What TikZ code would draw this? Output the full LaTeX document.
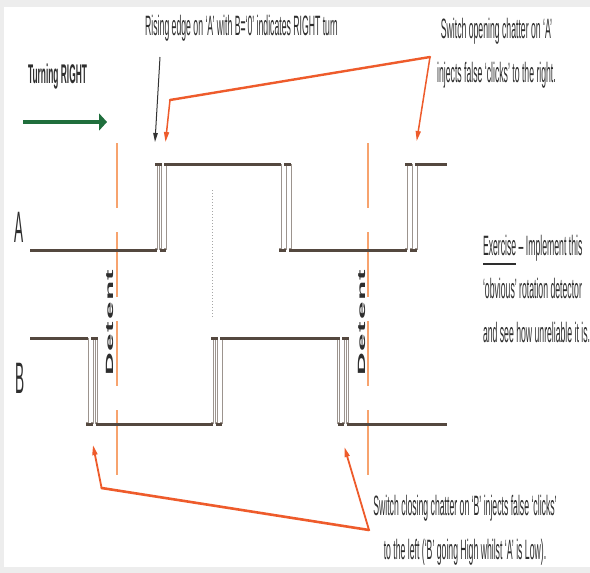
\documentclass[tikz,border=0pt]{standalone}
\usepackage{fontspec}
\setmainfont{Liberation Sans}
\newfontfamily\nf[FakeStretch=0.31]{Liberation Sans}
\newfontfamily\df[FakeStretch=3.0]{Liberation Sans}
\usetikzlibrary{arrows.meta}
\definecolor{txt}{HTML}{2E2E2E}
\definecolor{wavedark}{HTML}{54483F}
\definecolor{waveedge}{HTML}{9C948E}
\definecolor{detentc}{HTML}{F7A36E}
\definecolor{calloutc}{HTML}{EE5B2B}
\definecolor{grn}{HTML}{1F6E3C}
\definecolor{framec}{HTML}{EDEDED}
\newcommand\exunder[1]{\setbox0\hbox{#1}\rlap{\rule[-9.5pt]{\wd0}{1.8pt}}\box0\relax}
\begin{document}
\begin{tikzpicture}[x=1pt,y=-1pt,
  lbl/.style={inner sep=0pt, outer sep=0pt, text=txt, font=\nf\fontsize{28}{28}\selectfont},
  siglbl/.style={inner sep=0pt, outer sep=0pt, text=txt, font=\nf\fontsize{44}{44}\selectfont},
  detlbl/.style={inner sep=0pt, outer sep=0pt, text=txt, rotate=90, font=\df\bfseries\fontsize{10.5}{10.5}\selectfont},
  hline/.style={wavedark, line width=3pt},
  detline/.style={detentc, line width=2pt, dash pattern=on 65pt off 24pt},
  callthick/.style={calloutc, line width=2.4pt, line cap=round},
  callthin/.style={calloutc, line width=1.5pt, line cap=round, -{Triangle[length=10pt,width=5pt]}},
]
\fill[framec] (0,0) rectangle (590,573);
\fill[white] (4,7) rectangle (590,567);
\useasboundingbox (0,0) rectangle (590,573);

% detent guide lines
\coordinate (d1top) at (117,143); \coordinate (d1bot) at (117,475);
\coordinate (d2top) at (368,143); \coordinate (d2bot) at (368,475);
\draw[detline] (d1top) -- (d1bot);
\draw[detline] (d2top) -- (d2bot);

% dotted centre line
\coordinate (mtop) at (212,190); \coordinate (mbot) at (212,317);
\draw[black!35, line width=0.7pt, dash pattern=on 1pt off 2pt] (mtop) -- (mbot);

% waveform verticals (hollow double lines)
\foreach \xx/\ya/\yb in {156/164/250, 160.5/164/250, 165/164/250,
                         280/164/250, 285/164/250, 290/164/250,
                         406/164/250, 411/164/250, 416/164/250,
                         87/338/424, 92/338/424, 96.5/338/424,
                         212/338/424, 216.5/338/424, 221/338/424,
                         338.5/338/424, 343/338/424, 347.5/338/424} {
  \fill[waveedge] ({\xx-1.5},\ya) rectangle ({\xx+1.5},\yb);
  \fill[white] ({\xx-0.6},{\ya+2}) rectangle ({\xx+0.6},{\yb-2});
}

% waveform A horizontals
\foreach \xa/\xb/\yy in {30/157/250, 155/161.5/164, 159.5/166/250, 164/281/164, 279/286/250,
  284/291/164, 289/407/250, 405/412/164, 410/417/250, 415/447/164}
  \draw[hline] (\xa,\yy) -- (\xb,\yy);

% waveform B horizontals
\foreach \xa/\xb/\yy in {30/88/338, 86/93/424, 91/97.5/338, 95.5/213/424, 211/217.5/338,
  215.5/222/424, 220/339.5/338, 337.5/344/424, 342/348.5/338, 346.5/447/424}
  \draw[hline] (\xa,\yy) -- (\xb,\yy);

% signal labels
\node[siglbl, anchor=base] (labA) at (19,242) {A};
\node[siglbl, anchor=base] (labB) at (20,393) {B};

% detent labels
\node[detlbl] (det1) at (109.5,322.5) {D\kern1.6pt e\kern1.6pt t\kern1.6pt e\kern1.6pt n\kern1.6pt t};
\node[detlbl] (det2) at (361.5,322.5) {D\kern1.6pt e\kern1.6pt t\kern1.6pt e\kern1.6pt n\kern1.6pt t};

% turning right
\node[lbl, anchor=base, font=\nf\bfseries\fontsize{27}{27}\selectfont] (turn) at (57.5,83) {Turning RIGHT};
\coordinate (g0) at (23,122); \coordinate (g1) at (107,122);
\draw[grn, line width=4.5pt, -{Triangle[length=8pt,width=17pt]}] (g0) -- (g1);

% top texts
\node[lbl, anchor=base] (rising) at (241.5,35) {Rising edge on ‘A’ with B=‘0’ indicates RIGHT turn};
\node[lbl, anchor=base] (open1) at (496.5,38) {Switch opening chatter on ‘A’};
\node[lbl, anchor=base] (open2) at (496.5,82) {injects false ‘clicks’ to the right.};

% exercise
\node[lbl, anchor=base west] (ex1) at (483,255) {\exunder{Exercise} – Implement this};
\node[lbl, anchor=base west] (ex2) at (483,298) {‘obvious’ rotation detector};
\node[lbl, anchor=base west] (ex3) at (483,342) {and see how unreliable it is.};

% bottom texts
\node[lbl, anchor=base] (close1) at (465,515) {Switch closing chatter on ‘B’ injects false ‘clicks’};
\node[lbl, anchor=base] (close2) at (465,559) {to the left (‘B’ going High whilst ‘A’ is Low).};

% black arrow
\coordinate (b0) at (160,57); \coordinate (b1) at (155,142);
\draw[black!80, line width=1pt, -{Triangle[length=9pt,width=4.5pt]}] (b0) -- (b1);

% top orange callout
\coordinate (oc) at (170,100); \coordinate (oe) at (430,57);
\coordinate (ot1) at (165.5,142); \coordinate (ot2) at (416.7,141);
\draw[callthick] (oc) -- (oe);
\draw[callthin] (oc) -- (ot1);
\draw[callthin] (oe) -- (ot2);

% bottom orange callout
\coordinate (bc1) at (101.6,488); \coordinate (bc2) at (369,530);
\coordinate (bt1) at (93,445); \coordinate (bt2) at (344.4,447);
\draw[callthick, line width=2.6pt] (bc1) -- (bc2);
\draw[callthin, line width=1.8pt] (bc1) -- (bt1);
\draw[callthin, line width=1.8pt] (bc2) -- (bt2);
\end{tikzpicture}
\end{document}
